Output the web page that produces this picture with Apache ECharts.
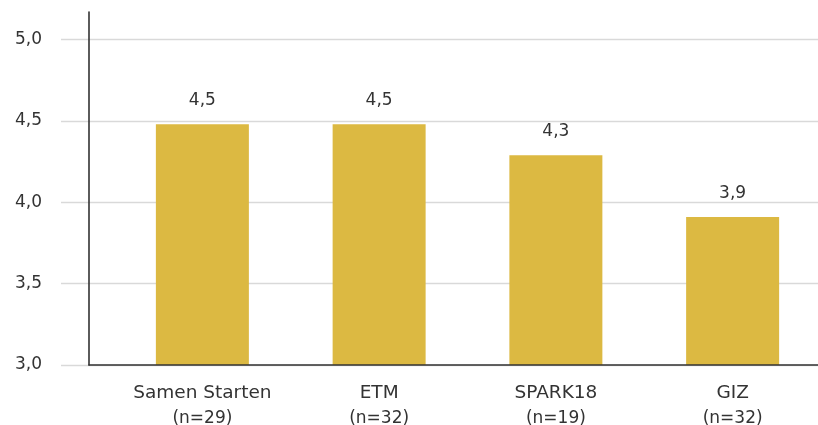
<!DOCTYPE html>
<html>
<head>
<meta charset="utf-8">
<script src="https://cdn.jsdelivr.net/npm/echarts@6/dist/echarts.min.js"></script>
<style>
  html, body { margin: 0; padding: 0; background: #fff; }
  #chart { width: 818px; height: 425px; }
</style>
</head>
<body>
<div id="chart"></div>
<script>
// data
const categories = ['Samen Starten', 'ETM', 'SPARK18', 'GIZ']
const sampleSizes = ['(n=29)', '(n=32)', '(n=19)', '(n=32)']
const scores = [4.48, 4.48, 4.29, 3.91]
const yMin = 3
const yMax = 5.17
const yStep = 0.5

const fmt = v => v.toFixed(1).replace('.', ',')
const font = 'DejaVu Sans'
const textColor = '#333'

const chart = echarts.init(document.getElementById('chart'))

const option = {
  animation: false,
  textStyle: { fontFamily: font },
  grid: [
    { left: 61, right: 0, top: 12, bottom: 60, outerBoundsMode: 'none' },   // gridlines + labels
    { left: 89, right: 0, top: 12, bottom: 60, outerBoundsMode: 'none' },   // axis lines
    { left: 114, right: -3, top: 12, bottom: 60, outerBoundsMode: 'none' }  // bars
  ],
  xAxis: [
    { gridIndex: 0, type: 'value', show: false },
    {
      gridIndex: 1, type: 'value', z: 5,
      axisLine: { show: true, onZero: false, lineStyle: { color: '#333', width: 1.6 } },
      axisTick: { show: false }, axisLabel: { show: false }, splitLine: { show: false }
    },
    {
      gridIndex: 2, type: 'category',
      data: categories.map((c, i) => '{name|' + c + '}\n{n|' + sampleSizes[i] + '}'),
      axisLine: { show: false }, axisTick: { show: false },
      axisLabel: {
        color: textColor, fontFamily: font, margin: 16, interval: 0,
        rich: {
          name: { fontSize: 18.5, fontFamily: font, color: textColor, lineHeight: 25 },
          n: { fontSize: 17, fontFamily: font, color: textColor, lineHeight: 25 }
        }
      }
    }
  ],
  yAxis: [
    {
      gridIndex: 0, type: 'value', min: yMin, max: yMax, interval: yStep,
      axisLine: { show: false }, axisTick: { show: false },
      axisLabel: { color: textColor, fontSize: 17, fontFamily: font, margin: 19, showMaxLabel: false, formatter: fmt },
      splitLine: { show: true, showMaxLine: false, lineStyle: { color: '#d9d9d9', width: 1.3 } }
    },
    {
      gridIndex: 1, type: 'value', min: yMin, max: yMax, z: 5,
      axisLine: { show: true, onZero: false, lineStyle: { color: '#333', width: 1.6 } },
      axisTick: { show: false }, axisLabel: { show: false }, splitLine: { show: false }
    },
    { gridIndex: 2, type: 'value', min: yMin, max: yMax, startValue: yMin, show: false, splitLine: { show: false } }
  ],
  series: [
    {
      type: 'bar',
      xAxisIndex: 2,
      yAxisIndex: 2,
      data: scores,
      barWidth: 93,
      itemStyle: { color: '#dcb942' },
      label: {
        show: true,
        position: 'top',
        distance: 15,
        color: textColor,
        fontSize: 17,
        fontFamily: font,
        formatter: p => fmt(p.value)
      }
    }
  ]
}

chart.setOption(option)
</script>
</body>
</html>
